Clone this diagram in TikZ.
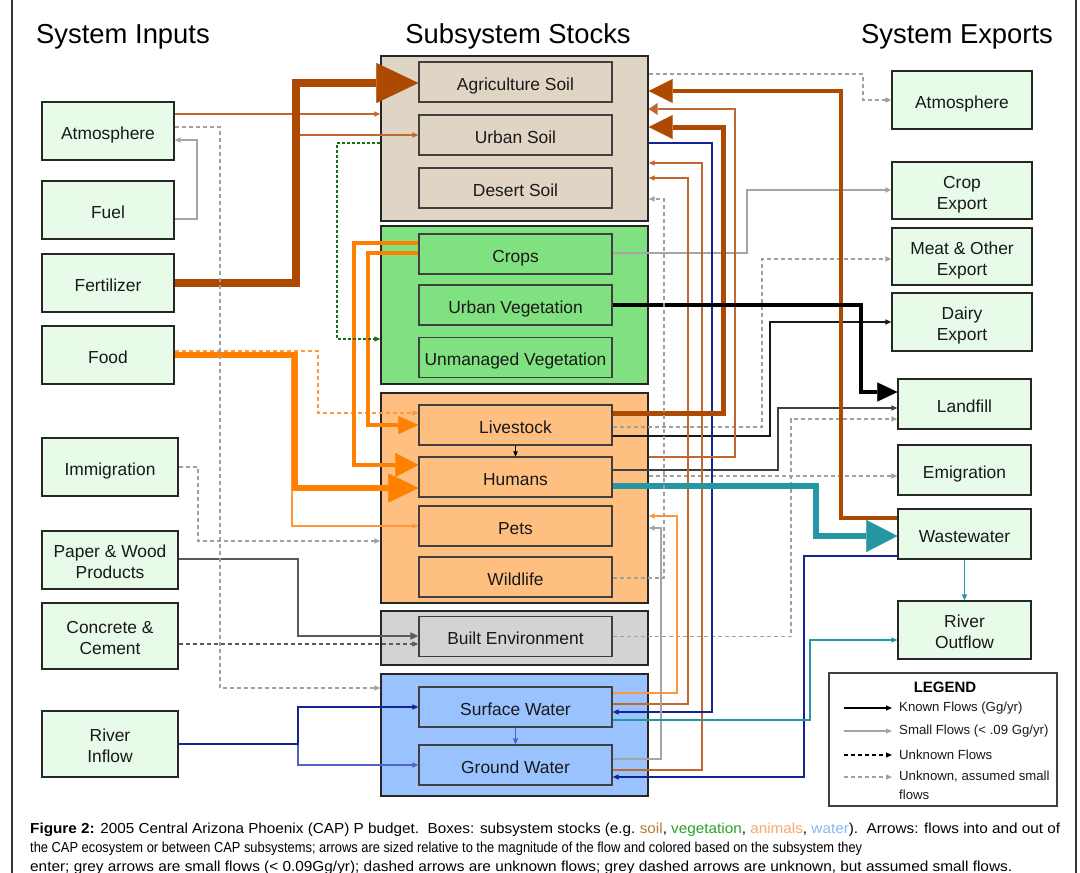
\documentclass[tikz,border=0pt]{standalone}
\usepackage{fontspec}
\setmainfont{Liberation Sans}
\usepackage{graphicx}
\usetikzlibrary{arrows.meta}
\definecolor{brn}{RGB}{173,73,0}
\definecolor{brnt}{RGB}{192,104,50}
\definecolor{org}{RGB}{255,128,0}
\definecolor{lorg}{RGB}{255,150,60}
\definecolor{tealc}{RGB}{38,150,162}
\definecolor{navyc}{RGB}{20,35,150}
\definecolor{bluem}{RGB}{80,100,200}
\definecolor{gsm}{RGB}{165,165,165}
\definecolor{gds}{RGB}{160,160,160}
\definecolor{dkg}{RGB}{90,90,90}
\definecolor{dkgreen}{RGB}{25,110,25}
\definecolor{infill}{RGB}{232,251,232}
\definecolor{soilf}{RGB}{224,213,197}
\definecolor{vegf}{RGB}{128,225,128}
\definecolor{anif}{RGB}{255,191,128}
\definecolor{bltf}{RGB}{211,211,211}
\definecolor{watf}{RGB}{153,194,255}
\definecolor{capsoil}{RGB}{180,120,60}
\definecolor{capveg}{RGB}{40,160,40}
\definecolor{capani}{RGB}{245,165,110}
\definecolor{capwat}{RGB}{130,185,240}
\newcommand\boxfont{\fontsize{17.4}{21}\selectfont}
\newcommand\titlefont{\fontsize{27.4}{32}\selectfont}
\newcommand\legfont{\fontsize{13.2}{16}\selectfont}
\newcommand\capfont{\fontsize{14.5}{17}\selectfont}
\newcommand\capline[2]{\resizebox{#1}{13pt}{\rule{0pt}{13pt}#2}}
\newcommand\twoline[2]{\rule{0pt}{20.4pt}#1\\#2\rule[-4pt]{0pt}{4pt}}
\begin{document}
\begin{tikzpicture}[x=1pt,y=-1pt,
  inbox/.style={draw=black!85, fill=infill, line width=1.2pt, minimum width=132pt, minimum height=58pt, inner sep=0pt, font=\boxfont, align=center, text=black!90},
  exbox/.style={inbox, minimum width=140pt},
  one/.style={text height=16.4pt, text depth=0pt},
  grp/.style={draw=black!85, line width=1.4pt, minimum width=267pt, inner sep=0pt},
  stock/.style={draw=black!75, line width=1.2pt, minimum width=193pt, minimum height=40pt, inner sep=0pt, font=\boxfont, text=black!90, one},
  ar/.style={-{Triangle[length=6pt,width=5pt]}},
  gs/.style={draw=gsm, line width=1.3pt, ar},
  gd/.style={draw=gds, line width=1.3pt, dash pattern=on 4pt off 3pt, ar},
  bt/.style={draw=brnt, line width=1.5pt, ar},
  legtext/.style={anchor=west, font=\legfont, inner sep=0pt, text=black!90}
]
\useasboundingbox (0,0) rectangle (1080,873);
% frame
\draw[black!80, line width=2pt] (12,0) -- (12,873);
\draw[black!80, line width=2pt] (1076,0) -- (1076,873);
% titles
\node[font=\titlefont, anchor=base] (tIn) at (123,43) {System Inputs};
\node[font=\titlefont, anchor=base] (tSt) at (518,43) {Subsystem Stocks};
\node[font=\titlefont, anchor=base] (tEx) at (957,43) {System Exports};
% groups
\node[grp, fill=soilf, minimum height=165pt] (gSoil) at (514.5,138.5) {};
\node[grp, fill=vegf, minimum height=158pt] (gVeg) at (514.5,305) {};
\node[grp, fill=anif, minimum height=210pt] (gAni) at (514.5,498) {};
\node[grp, fill=bltf, minimum height=54pt] (gBlt) at (514.5,638) {};
\node[grp, fill=watf, minimum height=122pt] (gWat) at (514.5,735) {};
% stocks
\node[stock, fill=soilf] (AgSoil) at (515.5,82) {Agriculture Soil};
\node[stock, fill=soilf] (UrbSoil) at (515.5,135) {Urban Soil};
\node[stock, fill=soilf] (DesSoil) at (515.5,188) {Desert Soil};
\node[stock, fill=vegf] (Crops) at (515.5,254) {Crops};
\node[stock, fill=vegf] (UrbVeg) at (515.5,305) {Urban Vegetation};
\node[stock, fill=vegf] (UnVeg) at (515.5,357.5) {Unmanaged Vegetation};
\node[stock, fill=anif] (Live) at (515.5,425) {Livestock};
\node[stock, fill=anif] (Hum) at (515.5,477) {Humans};
\node[stock, fill=anif] (Pets) at (515.5,526) {Pets};
\node[stock, fill=anif] (Wild) at (515.5,577) {Wildlife};
\node[stock, fill=bltf] (Built) at (515.5,636.5) {Built Environment};
\node[stock, fill=watf] (SurfW) at (515.5,707) {Surface Water};
\node[stock, fill=watf] (GrW) at (515.5,765) {Ground Water};
% inputs
\node[inbox, one] (inAtm) at (108,131) {Atmosphere};
\node[inbox, one] (inFuel) at (108,210) {Fuel};
\node[inbox, one] (inFert) at (108,283) {Fertilizer};
\node[inbox, one] (inFood) at (108,355) {Food};
\node[inbox, one, minimum width=136pt] (inImm) at (110,467) {Immigration};
\node[inbox, minimum width=136pt] (inPaper) at (110,560) {\twoline{Paper \& Wood}{Products}};
\node[inbox, minimum width=136pt, minimum height=66pt] (inConc) at (110,636) {\twoline{Concrete \&}{Cement}};
\node[inbox, minimum width=136pt, minimum height=66pt] (inRiver) at (110,744) {\twoline{River}{Inflow}};
% exports
\node[exbox, one] (exAtm) at (962,100) {Atmosphere};
\node[exbox, minimum height=57pt] (exCrop) at (962,190.5) {\twoline{Crop}{Export}};
\node[exbox, minimum height=57pt] (exMeat) at (962,256.5) {\twoline{Meat \& Other}{Export}};
\node[exbox] (exDairy) at (962,322) {\twoline{Dairy}{Export}};
\node[exbox, one, minimum width=133pt, minimum height=50pt] (Landfill) at (964.5,404) {Landfill};
\node[exbox, one, minimum width=133pt, minimum height=50pt] (Emig) at (964.5,470) {Emigration};
\node[exbox, one, minimum width=133pt, minimum height=50pt] (Waste) at (964.5,534) {Wastewater};
\node[exbox, minimum width=133pt] (RivOut) at (964.5,630) {\twoline{River}{Outflow}};

% ---------- left-side flows
\draw[brnt, line width=1.3pt, ar] (inAtm.east |- 0,114) -- (gSoil.west |- 0,114);
\draw[gs] (inFuel.east |- 0,219) -| (197,140) -- (inAtm.east |- 0,140);
\draw[brnt, line width=1.3pt, ar] (inFert.east) -| (296,135) -- (UrbSoil.west);
\draw[brn, line width=7.5pt, -{Triangle[length=42pt,width=40pt,line width=0.1pt]}] (inFert.east) -| (296,83) -- (AgSoil.west |- 0,83);
\draw[lorg, line width=1.3pt, ar] (inFood.east) -| (292,526) -- (Pets.west);
\draw[org, line width=5.5pt, -{Triangle[length=30pt,width=29pt,line width=0.1pt]}] (inFood.east) -| (295,488) -- (Hum.west |- 0,488);
\draw[lorg, line width=1.3pt, dash pattern=on 4pt off 3pt, ar] (inFood.east |- 0,351) -| (318,413) -- (Live.west |- 0,413);
\draw[org, line width=4pt, -{Triangle[length=23pt,width=24pt,line width=0.1pt]}] (Crops.west |- 0,243) -| (354,465) -- (Hum.west |- 0,465);
\draw[org, line width=3.5pt, -{Triangle[length=20pt,width=18pt,line width=0.1pt]}] (Crops.west |- 0,253) -| (368,425) -- (Live.west);
\draw[dkgreen, line width=1.1pt, dash pattern=on 3pt off 2pt, ar] (gSoil.west |- 0,143) -| (337,339) -- (gVeg.west |- 0,339);
\draw[gd] (inImm.east |- 0,467) -| (198,541) -- (gAni.west |- 0,541);
\draw[dkg, line width=1.6pt, -{Triangle[length=8pt,width=7pt]}] (inPaper.east |- 0,559) -| (298,636) -- (Built.west |- 0,636);
\draw[dkg, line width=1.3pt, dash pattern=on 4pt off 3pt, ar] (inConc.east |- 0,644) -- (Built.west |- 0,644);
\draw[bluem, line width=1.6pt, ar] (inRiver.east) -| (298,765) -- (GrW.west);
\draw[navyc, line width=1.2pt, ar] (inRiver.east) -| (298,707) -- (SurfW.west);
\draw[gd] (inAtm.east |- 0,127) -| (220,688) -- (gWat.west |- 0,688);
% ---------- internal flows
\draw[black, line width=1pt, -{Triangle[length=5pt,width=4.5pt]}] (Live.south) -- (Hum.north);
\draw[bluem, line width=1.2pt, ar] (SurfW.south) -- (GrW.north);
% ---------- right-side flows
\draw[gd] (gSoil.east |- 0,74) -| (863,100) -- (exAtm.west);
\draw[gs] (Crops.east |- 0,253) -| (747,190) -- (exCrop.west |- 0,190);
\draw[gd] (Live.east |- 0,427) -| (762,259) -- (exMeat.west |- 0,259);
\draw[black!90, line width=1.2pt, ar] (Live.east |- 0,436) -| (770,322) -- (exDairy.west);
\draw[black!75, line width=1.4pt, ar] (Hum.east |- 0,470) -| (778,408) -- (Landfill.west |- 0,408);
\draw[gd] (Built.east) -| (791,419) -- (Landfill.west |- 0,419);
\draw[gd] (gAni.east |- 0,476) -- (Emig.west |- 0,476);
\draw[bt] (SurfW.east |- 0,704) -| (688,178) -- (gSoil.east |- 0,178);
\draw[bt] (GrW.east |- 0,770) -| (702,163) -- (gSoil.east |- 0,163);
\draw[navyc, line width=1.2pt, ar] (gSoil.east |- 0,143) -| (712,712) -- (SurfW.east |- 0,712);
\draw[lorg, line width=1.3pt, ar] (SurfW.east |- 0,693) -| (677,516) -- (gAni.east |- 0,516);
\draw[gsm, line width=1.6pt, ar] (GrW.east |- 0,759) -| (661,528) -- (gAni.east |- 0,528);
\draw[brnt, line width=2pt, -{Triangle[length=9pt,width=12pt,line width=0.1pt]}] (gAni.east |- 0,457) -| (735,109) -- (gSoil.east |- 0,109);
\draw[navyc, line width=1.2pt, ar] (Waste.west |- 0,556) -| (804,777) -- (GrW.east |- 0,777);
\draw[tealc, line width=1.2pt, ar] (SurfW.east |- 0,720) -| (810,640) -- (RivOut.west |- 0,640);
\draw[tealc, line width=1.2pt, ar] (Waste.south) -- (RivOut.north);
\draw[brn, line width=5pt, -{Triangle[length=24pt,width=24pt,line width=0.1pt]}] (Live.east |- 0,413) -| (723,127) -- (gSoil.east |- 0,127);
\draw[brn, line width=4.5pt, -{Triangle[length=24pt,width=24pt,line width=0.1pt]}] (Waste.west |- 0,518) -| (841,91) -- (gSoil.east |- 0,91);
\draw[black, line width=4pt, -{Triangle[length=20pt,width=19pt,line width=0.1pt]}] (UrbVeg.east) -| (861,392) -- (Landfill.west |- 0,392);
\draw[tealc, line width=5.5pt, -{Triangle[length=31pt,width=32pt,line width=0.1pt]}] (Hum.east |- 0,486) -| (816,536) -- (Waste.west |- 0,536);
\draw[gd] (Wild.east |- 0,578) -| (664,199) -- (gSoil.east |- 0,199);

% ---------- legend
\node[draw=black!75, line width=2.5pt, minimum width=228pt, minimum height=133pt, inner sep=0pt] (legend) at (943,739.5) {};
\node[font=\bfseries\fontsize{15}{18}\selectfont] (legT) at (945,687) {LEGEND};
\coordinate (s1a) at (844,708); \coordinate (s1b) at (892,708);
\coordinate (s2a) at (844,731); \coordinate (s2b) at (892,731);
\coordinate (s3a) at (844,755); \coordinate (s3b) at (892,755);
\coordinate (s4a) at (844,777); \coordinate (s4b) at (892,777);
\draw[black, line width=1.2pt, ar] (s1a) -- (s1b);
\draw[gsm, line width=1.2pt, ar] (s2a) -- (s2b);
\draw[black, line width=1.2pt, dash pattern=on 4pt off 3pt, ar] (s3a) -- (s3b);
\draw[gds, line width=1.2pt, dash pattern=on 4pt off 3pt, ar] (s4a) -- (s4b);
\node[legtext] (l1) at (899,708) {Known Flows (Gg/yr)};
\node[legtext] (l2) at (899,731) {Small Flows (< .09 Gg/yr)};
\node[legtext] (l3) at (899,755) {Unknown Flows};
\node[legtext] (l4) at (899,777) {Unknown, assumed small};
\node[legtext] (l5) at (899,795) {flows};

% ---------- caption
\node[anchor=base west, inner sep=0pt] (cap1) at (30,833) {\capline{1030pt}{\capfont\textbf{Figure 2:} 2005 Central Arizona Phoenix (CAP) P budget.\ \ Boxes: subsystem stocks (e.g.\ {\color{capsoil}soil}, {\color{capveg}vegetation}, {\color{capani}animals}, {\color{capwat}water}).\ \ Arrows: flows into and out of}};
\node[anchor=base west, inner sep=0pt] (cap2) at (30,852.5) {\capline{832pt}{\capfont the CAP ecosystem or between CAP subsystems; arrows are sized relative to the magnitude of the flow and colored based on the subsystem they}};
\node[anchor=base west, inner sep=0pt] (cap3) at (30,871) {\capline{982pt}{\capfont enter; grey arrows are small flows (< 0.09Gg/yr); dashed arrows are unknown flows; grey dashed arrows are unknown, but assumed small flows.}};
\end{tikzpicture}
\end{document}
